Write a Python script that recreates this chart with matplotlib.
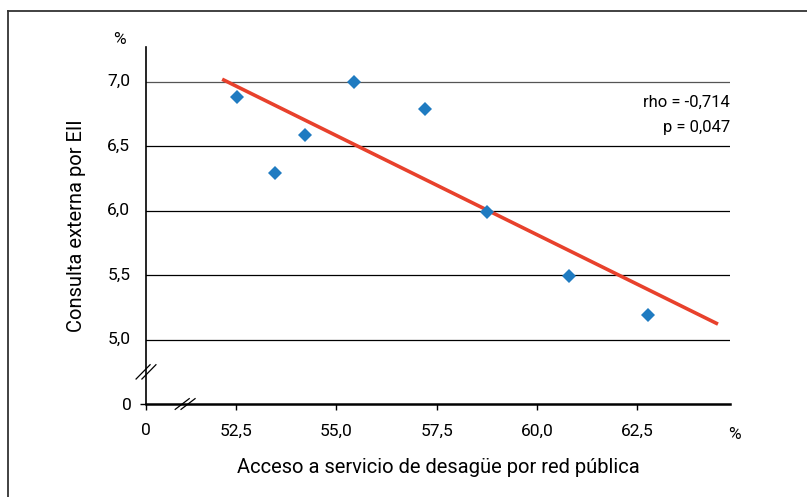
import matplotlib
matplotlib.use('Agg')
import matplotlib.pyplot as plt
from matplotlib.lines import Line2D
from matplotlib import font_manager

# Points
acceso = [52.52, 53.47, 54.22, 55.44, 57.21, 58.76, 60.80, 62.77]
consulta = [6.88, 6.29, 6.59, 7.00, 6.79, 5.99, 5.49, 5.19]

# fitted line end points as drawn in the reference
fit_x = [52.15, 64.52]
fit_y = [7.02, 5.12]

x_ticks = [50.25, 52.5, 55.0, 57.5, 60.0, 62.5]
x_labels = ['0', '52,5', '55,0', '57,5', '60,0', '62,5']
y_ticks = [4.5, 5.0, 5.5, 6.0, 6.5, 7.0]
y_labels = ['0', '5,0', '5,5', '6,0', '6,5', '7,0']

names = {f.name for f in font_manager.fontManager.ttflist}
fam = [n for n in ['Liberation Sans Narrow', 'DejaVu Sans Condensed', 'Roboto'] if n in names]
plt.rcParams['font.family'] = fam[:1] + ['DejaVu Sans']

W, H = 807, 497
Y0, Y1 = 4.5, 7.27
fig = plt.figure(figsize=(W / 100, H / 100), dpi=100)
ax = fig.add_axes([146 / W, (H - 404) / H, (730 - 146) / W, (404 - 47) / H])
ax.set_xlim(50.25, 64.82)
ax.set_ylim(Y0, Y1)

# figure frame (top and left only)
fig.add_artist(Line2D([8 / W, 1], [1 - 11 / H, 1 - 11 / H], color='#333333', lw=1.3))
fig.add_artist(Line2D([8 / W, 8 / W], [0, 1 - 11 / H], color='#333333', lw=1.3))

for y in y_ticks[1:]:
    ax.axhline(y, color='black' if y < 7.0 else '#555555', lw=0.9, zorder=1)

ax.plot(fit_x, fit_y, color='#e8412c', lw=2.6, solid_capstyle='butt', zorder=2)
ax.plot(acceso, consulta, 'D', color='#1f7bc1', markersize=7, markeredgewidth=0, zorder=3)

for s in ['top', 'right']:
    ax.spines[s].set_visible(False)
ax.spines['left'].set_linewidth(1.2)
ax.spines['bottom'].set_linewidth(1.8)

ax.set_xticks(x_ticks)
ax.set_xticklabels(x_labels, fontsize=12.5)
ax.set_yticks([Y0])
ax.set_yticklabels(['0'], fontsize=12.5)
ax.tick_params(axis='x', direction='out', length=4, width=1, pad=10)
ax.tick_params(axis='y', direction='out', length=4, width=1, pad=6)
for y, lab in zip(y_ticks[1:], y_labels[1:]):
    ax.text(-0.027, (y - Y0) / (Y1 - Y0), lab, transform=ax.transAxes,
            ha='right', va='center', fontsize=12.5)

# break marks
def brk(x0, y0, dx, dy, gap):
    for d in (-gap, gap):
        ax.add_line(Line2D([x0 + d - dx, x0 + d + dx], [y0 - dy, y0 + dy],
                           transform=ax.transAxes, color='black', lw=0.9, clip_on=False))

brk(0.0, 0.09, 0.012, 0.02, 0.005)
brk(0.067, 0.0, 0.012, 0.015, 0.005)

ax.text(-0.045, 1.0, '%', transform=ax.transAxes, ha='center', va='bottom', fontsize=12.5)
ax.text(1.008, -0.085, '%', transform=ax.transAxes, ha='center', va='center', fontsize=12.5)

ax.text(1.0, 0.844, 'rho = -0,714', transform=ax.transAxes, ha='right', va='center', fontsize=12)
ax.text(1.0, 0.775, 'p = 0,047', transform=ax.transAxes, ha='right', va='center', fontsize=12)

ax.set_xlabel('Acceso a servicio de desagüe por red pública', fontsize=14.5, labelpad=14)
ax.set_ylabel('Consulta externa por EII', fontsize=14.5, labelpad=26)

fig.savefig('out.png', dpi=100)
